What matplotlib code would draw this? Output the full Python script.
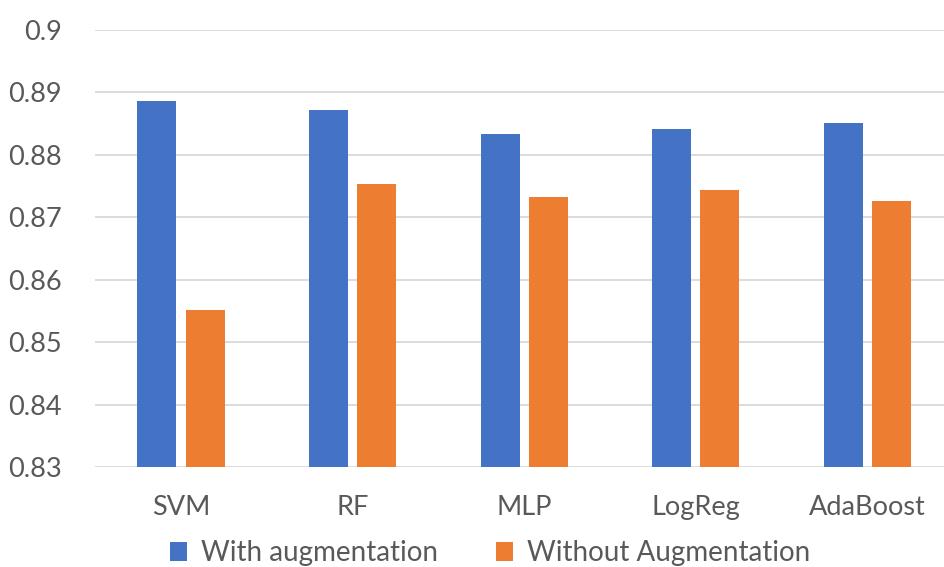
import matplotlib.pyplot as plt
import numpy as np

categories = ["SVM", "RF", "MLP", "LogReg", "AdaBoost"]
with_aug = [0.8886, 0.8872, 0.8833, 0.8841, 0.8851]
without_aug = [0.8552, 0.8753, 0.8732, 0.8744, 0.8726]
series_names = ["With augmentation", "Without Augmentation"]
yticks = [0.83, 0.84, 0.85, 0.86, 0.87, 0.88, 0.89, 0.9]
ytick_labels = ["0.83", "0.84", "0.85", "0.86", "0.87", "0.88", "0.89", "0.9"]

blue = "#4472C4"
orange = "#ED7D31"
grid_c = "#D9D9D9"
text_c = "#595959"

plt.rcParams['font.family'] = ['Lato', 'DejaVu Sans']

fig = plt.figure(figsize=(9.44, 5.67), dpi=100)
ax = fig.add_axes([95 / 944, 100 / 567, 858 / 944, 437 / 567])

x = np.arange(len(categories))
w = 0.227
b1 = ax.bar(x - 0.139, [v - 0.83 for v in with_aug], w, bottom=0.83,
            color=blue, label=series_names[0], zorder=3)
b2 = ax.bar(x + 0.142, [v - 0.83 for v in without_aug], w, bottom=0.83,
            color=orange, label=series_names[1], zorder=3)

ax.set_xlim(-0.5, len(categories) - 0.5)
ax.set_ylim(0.83, 0.9)
ax.set_yticks(yticks)
ax.set_yticklabels(ytick_labels)
ax.set_xticks(x)
ax.set_xticklabels(categories)

for s in ax.spines.values():
    s.set_visible(False)
ax.yaxis.grid(True, color=grid_c, linewidth=1.3, zorder=0)
ax.tick_params(axis='both', length=0, labelsize=19.5, colors=text_c)
ax.tick_params(axis='y', pad=24)
ax.tick_params(axis='x', pad=20)

leg = fig.legend(handles=[b1, b2], labels=series_names, loc='center',
                 bbox_to_anchor=(490 / 944, 1 - 553 / 567), ncol=2, frameon=False,
                 fontsize=20, handlelength=0.6, handleheight=0.7,
                 handletextpad=0.5, columnspacing=2.1)
for t in leg.get_texts():
    t.set_color(text_c)

fig.savefig("out.png", dpi=100)
